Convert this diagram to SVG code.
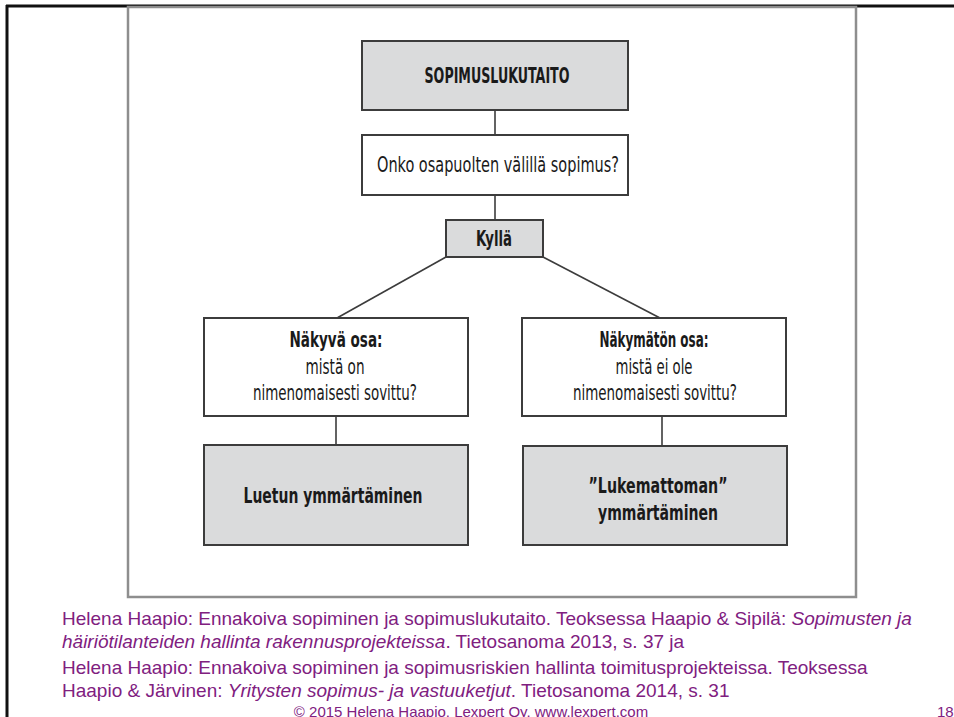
<svg xmlns="http://www.w3.org/2000/svg" width="954" height="717" viewBox="0 0 954 717">
<style>
.box{stroke:#3c3c3c;stroke-width:2}
.g{fill:#dadbdc}
.w{fill:#ffffff}
.t{font-family:"Liberation Sans Narrow","DejaVu Sans Condensed","Liberation Sans",sans-serif;font-stretch:condensed;font-size:22px;fill:#1a1a1a;text-anchor:middle}
.b{font-weight:bold}
.con{stroke:#3c3c3c;stroke-width:1.6;fill:none}
.ref{font-family:"Liberation Sans",Arial,sans-serif;font-size:19px;fill:#80207f}
.i{font-style:italic}
</style>
<rect x="0" y="0" width="954" height="717" fill="#ffffff"/>
<line x1="6" y1="6" x2="954" y2="6" stroke="#111" stroke-width="3"/>
<line x1="7" y1="5" x2="7" y2="717" stroke="#111" stroke-width="3"/>
<rect x="128" y="7" width="728" height="590" fill="#ffffff" stroke="#8e8e8e" stroke-width="2.5"/>

<g id="connectors">
<line class="con" x1="495" y1="110" x2="495" y2="135"/>
<line class="con" x1="495" y1="195" x2="495" y2="220"/>
<line class="con" x1="446" y1="257" x2="337" y2="318"/>
<line class="con" x1="543" y1="257" x2="660" y2="318"/>
<line class="con" x1="336" y1="416" x2="336" y2="445"/>
<line class="con" x1="662" y1="416" x2="662" y2="445"/>
</g>

<g id="n1">
<rect class="box g" x="362" y="41" width="266" height="69"/>
<text class="t b" x="497" y="83" textLength="145" lengthAdjust="spacingAndGlyphs">SOPIMUSLUKUTAITO</text>
</g>
<g id="n2">
<rect class="box w" x="362" y="135" width="266" height="60"/>
<text class="t" x="498" y="172" textLength="242" lengthAdjust="spacingAndGlyphs">Onko osapuolten välillä sopimus?</text>
</g>
<g id="n3">
<rect class="box g" x="446" y="220" width="97" height="37"/>
<text class="t b" x="494" y="246" textLength="36" lengthAdjust="spacingAndGlyphs">Kyllä</text>
</g>
<g id="n4">
<rect class="box w" x="204" y="318" width="264" height="98"/>
<text class="t b" x="336" y="347" textLength="93" lengthAdjust="spacingAndGlyphs">Näkyvä osa:</text>
<text class="t" x="335" y="374" textLength="59" lengthAdjust="spacingAndGlyphs">mistä on</text>
<text class="t" x="335" y="400" textLength="164" lengthAdjust="spacingAndGlyphs">nimenomaisesti sovittu?</text>
</g>
<g id="n5">
<rect class="box w" x="522" y="318" width="264" height="98"/>
<text class="t b" x="654" y="347" textLength="109" lengthAdjust="spacingAndGlyphs">Näkymätön osa:</text>
<text class="t" x="654" y="374" textLength="77" lengthAdjust="spacingAndGlyphs">mistä ei ole</text>
<text class="t" x="655" y="400" textLength="164" lengthAdjust="spacingAndGlyphs">nimenomaisesti sovittu?</text>
</g>
<g id="n6">
<rect class="box g" x="204" y="445" width="264" height="100"/>
<text class="t b" x="333" y="503" textLength="179" lengthAdjust="spacingAndGlyphs">Luetun ymmärtäminen</text>
</g>
<g id="n7">
<rect class="box g" x="523" y="446" width="264" height="99"/>
<text class="t b" x="658" y="493" textLength="139" lengthAdjust="spacingAndGlyphs">”Lukemattoman”</text>
<text class="t b" x="658" y="520" textLength="120" lengthAdjust="spacingAndGlyphs">ymmärtäminen</text>
</g>

<g id="references">
<text class="ref" x="62" y="625">Helena Haapio: Ennakoiva sopiminen ja sopimuslukutaito. Teoksessa Haapio &amp; Sipilä: <tspan class="i">Sopimusten ja</tspan></text>
<text class="ref" x="62" y="648"><tspan class="i">häiriötilanteiden hallinta rakennusprojekteissa</tspan>. Tietosanoma 2013, s. 37 ja</text>
<text class="ref" x="62" y="674">Helena Haapio: Ennakoiva sopiminen ja sopimusriskien hallinta toimitusprojekteissa. Teoksessa</text>
<text class="ref" x="62" y="697">Haapio &amp; Järvinen: <tspan class="i">Yritysten sopimus- ja vastuuketjut</tspan>. Tietosanoma 2014, s. 31</text>
<text class="ref" x="471" y="717" text-anchor="middle" style="font-size:15px">© 2015 Helena Haapio, Lexpert Oy, www.lexpert.com</text>
<text class="ref" x="937" y="717" style="font-size:15px">18</text>
</g>
</svg>
